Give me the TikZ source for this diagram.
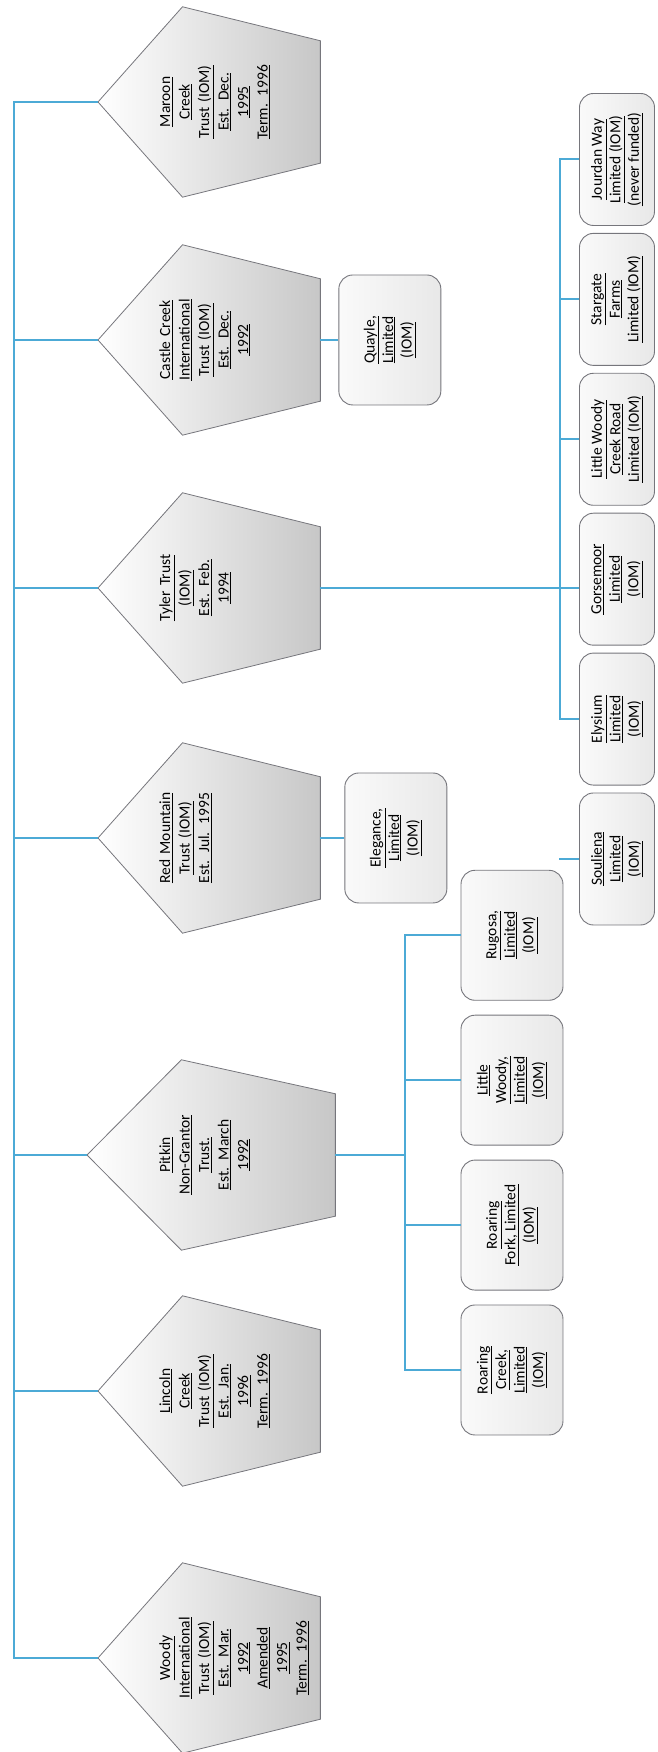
\documentclass[tikz,border=0pt]{standalone}
\usepackage{fontspec}
\setmainfont{Carlito}
\usepackage{xcolor}
\usepackage{tikz}
\usetikzlibrary{positioning, backgrounds, calc}
\definecolor{linkblue}{RGB}{76,170,214}
\definecolor{boxedge}{RGB}{118,118,124}
\newcommand{\ulined}[1]{\underline{#1}}
\tikzset{
    trust/.style={rectangle, inner xsep=2pt, inner ysep=0pt, text width=186pt,
                  text height=72pt, text depth=150pt, align=center, anchor=north,
                  font=\fontsize{15.5}{19.5}\selectfont, text=black},
    trustshape/.style={draw=boxedge, line width=0.8pt, left color=white, right color=black!22},
    company/.style={rectangle, rounded corners=14pt, minimum width=130pt, minimum height=102pt,
                    align=center, draw=boxedge, line width=0.9pt, left color=black!2,
                    right color=black!9, font=\fontsize{15.5}{18.5}\selectfont, text=black},
    subco/.style={company, minimum width=132pt, minimum height=75pt},
    link/.style={linkblue, line width=2pt}
}

\begin{document}
\begin{tikzpicture}[x=1pt, y=1pt, rotate=90, transform shape]
    \useasboundingbox (0,0) rectangle (1752,657);

    % Trusts
    \node[trust] (woody) at (94,559)
        {\ulined{Woody}\\ \ulined{International}\\ \ulined{Trust (IOM)}\\ \ulined{Est. Mar.}\\
         \ulined{1992}\\ \ulined{Amended}\\ \ulined{1995}\\ \ulined{Term. 1996}};
    \node[trust] (lincoln) at (361,559)
        {\ulined{Lincoln}\\ \ulined{Creek}\\ \ulined{Trust (IOM)}\\ \ulined{Est. Jan.}\\
         \ulined{1996}\\ \ulined{Term. 1996}};
    \node[trust, text height=83pt, text depth=165pt] (pitkin) at (597,570)
        {\ulined{Pitkin}\\ \ulined{Non-Grantor}\\ \ulined{Trust.}\\ \ulined{Est. March}\\ \ulined{1992}};
    \node[trust] (redmtn) at (914,559)
        {\ulined{Red Mountain}\\ \ulined{Trust (IOM)}\\ \ulined{Est. Jul. 1995}};
    \node[trust] (tyler) at (1164,559)
        {\ulined{Tyler Trust}\\ \ulined{(IOM)}\\ \ulined{Est. Feb.}\\ \ulined{1994}};
    \node[trust] (castle) at (1412,559)
        {\ulined{Castle Creek}\\ \ulined{International}\\ \ulined{Trust (IOM)}\\ \ulined{Est. Dec.}\\
         \ulined{1992}};
    \node[trust] (maroon) at (1650,559)
        {\ulined{Maroon}\\ \ulined{Creek}\\ \ulined{Trust (IOM)}\\ \ulined{Est. Dec.}\\
         \ulined{1995}\\ \ulined{Term. 1996}};

    % pentagon outlines behind the trust texts
    \begin{scope}[on background layer]
        \foreach \t in {woody,lincoln,pitkin,redmtn,tyler,castle,maroon}
            \draw[trustshape] (\t.north) -- ($(\t.north east)!0.38!(\t.south east)$)
                -- ($(\t.south east)+(-34,0)$) -- ($(\t.south west)+(34,0)$)
                -- ($(\t.north west)!0.38!(\t.south west)$) -- cycle;
    \end{scope}

    % Castle Creek and Red Mountain companies
    \node[company, below=18pt of castle] (quayle)
        {\ulined{Quayle,}\\ \ulined{Limited}\\ \ulined{(IOM)}};
    \node[company, below=24pt of redmtn] (elegance)
        {\ulined{Elegance,}\\ \ulined{Limited}\\ \ulined{(IOM)}};

    % Pitkin companies
    \node[company] (rcreek) at (382,145)
        {\ulined{Roaring}\\ \ulined{Creek,}\\ \ulined{Limited}\\ \ulined{(IOM)}};
    \node[company, right=14pt of rcreek] (rfork)
        {\ulined{Roaring}\\ \ulined{Fork, Limited}\\ \ulined{(IOM)}};
    \node[company, right=14pt of rfork] (lwoody)
        {\ulined{Little}\\ \ulined{Woody,}\\ \ulined{Limited}\\ \ulined{(IOM)}};
    \node[company, right=14pt of lwoody] (rugosa)
        {\ulined{Rugosa,}\\ \ulined{Limited}\\ \ulined{(IOM)}};

    % Tyler companies
    \node[subco] (souliena) at (893,40)
        {\ulined{Souliena}\\ \ulined{Limited}\\ \ulined{(IOM)}};
    \node[subco, right=7pt of souliena] (elysium)
        {\ulined{Elysium}\\ \ulined{Limited}\\ \ulined{(IOM)}};
    \node[subco, right=7pt of elysium] (gorsemoor)
        {\ulined{Gorsemoor}\\ \ulined{Limited}\\ \ulined{(IOM)}};
    \node[subco, right=7pt of gorsemoor] (lwcroad)
        {\ulined{Little Woody}\\ \ulined{Creek Road}\\ \ulined{Limited (IOM)}};
    \node[subco, right=7pt of lwcroad] (stargate)
        {\ulined{Stargate}\\ \ulined{Farms}\\ \ulined{Limited (IOM)}};
    \node[subco, right=7pt of stargate] (jourdan)
        {\ulined{Jourdan Way}\\ \ulined{Limited (IOM)}\\ \ulined{(never funded)}};

    % Links
    \coordinate (trunk) at (0,643);
    \draw[link] (woody.north) |- (maroon.north |- trunk) -- (maroon.north);
    \foreach \t in {lincoln,pitkin,redmtn,tyler,castle}
        \draw[link] (\t.north) -- (\t.north |- trunk);
    \draw[link] (castle.south) -- (quayle.north);
    \draw[link] (redmtn.south) -- (elegance.north);

    \coordinate (pitkinbus) at (0,252);
    \draw[link] (pitkin.south) -- (pitkin.south |- pitkinbus);
    \draw[link] (rcreek.north) |- (rugosa.north |- pitkinbus) -- (rugosa.north);
    \foreach \c in {rfork,lwoody}
        \draw[link] (\c.north) -- (\c.north |- pitkinbus);

    \coordinate (tylerbus) at (0,97);
    \draw[link] (tyler.south) -- (tyler.south |- gorsemoor.north);
    \draw[link] (elysium.north) |- (jourdan.north |- tylerbus) -- (jourdan.north);
    \foreach \c in {lwcroad,stargate}
        \draw[link] (\c.north) -- (\c.north |- tylerbus);
    \coordinate[above=20pt of souliena] (soulstub);
    \draw[link] (soulstub) -- (souliena.north);
\end{tikzpicture}
\end{document}
